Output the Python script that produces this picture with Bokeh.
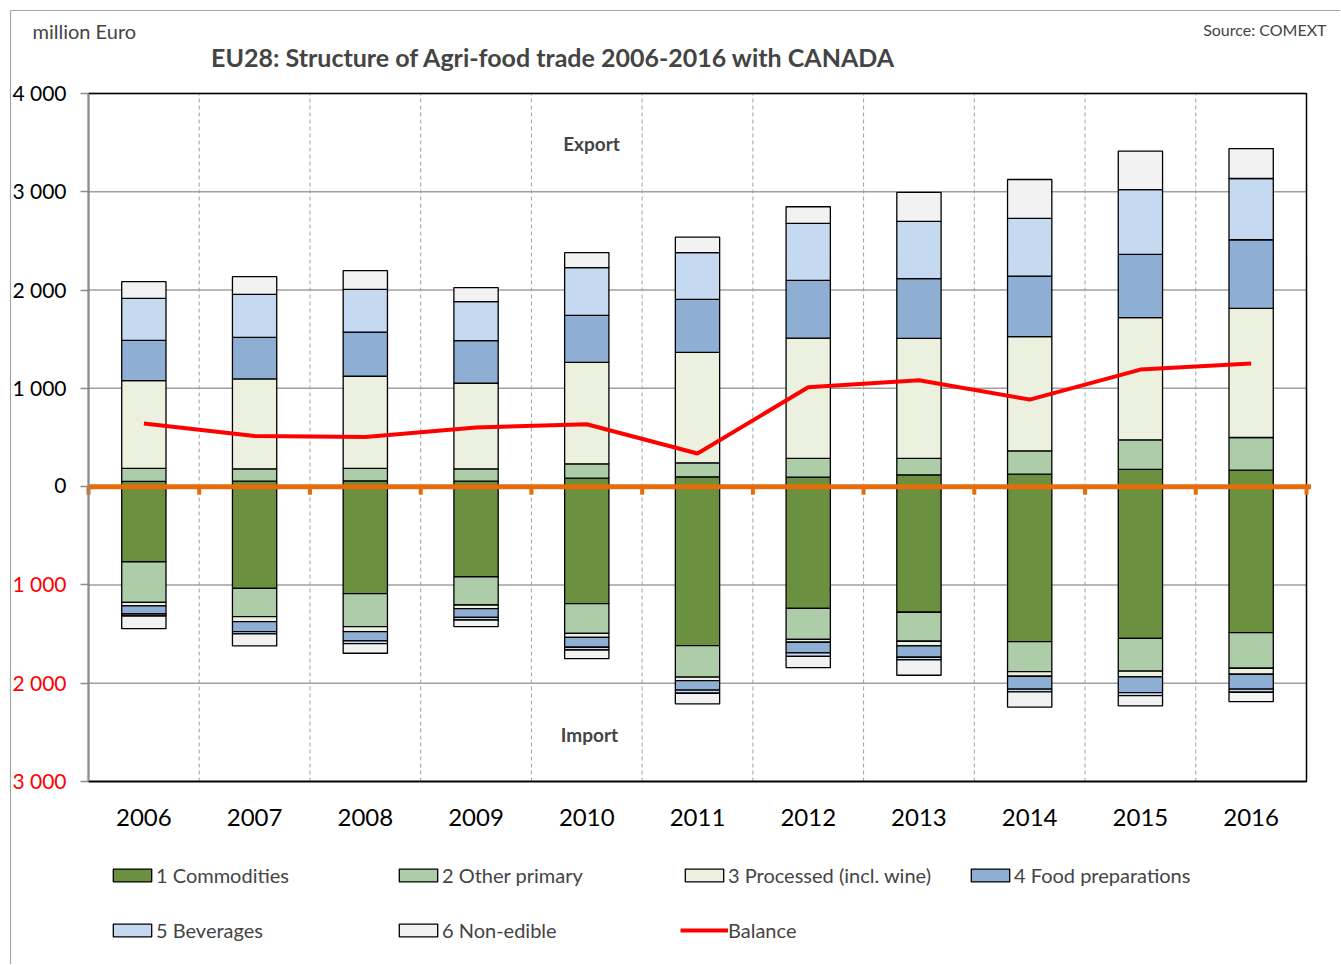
import numpy as np
from bokeh.plotting import figure
from bokeh.models import (ColumnDataSource, FixedTicker, Label, Legend,
                          LegendItem, Range1d)
from bokeh.embed import file_html
from bokeh.resources import INLINE

FONT = "Lato"

years = ["2006", "2007", "2008", "2009", "2010", "2011",
         "2012", "2013", "2014", "2015", "2016"]
categories = ["1 Commodities", "2 Other primary", "3 Processed (incl. wine)",
              "4 Food preparations", "5 Beverages", "6 Non-edible"]
colors = ["#6a9040", "#adcda9", "#ebf1de", "#8faed4", "#c5d9f1", "#f2f2f2"]

# Export (million Euro)
exp_commodities = [53, 56, 59, 56, 86, 100, 97, 120, 127, 175, 168]
exp_other_primary = [132, 125, 126, 125, 146, 142, 190, 167, 237, 301, 332]
exp_processed = [894, 915, 938, 871, 1033, 1125, 1225, 1222, 1162, 1244, 1314]
exp_food_prep = [410, 423, 450, 434, 478, 538, 587, 607, 616, 643, 698]
exp_beverages = [427, 437, 434, 396, 485, 475, 579, 582, 587, 660, 623]
exp_non_edible = [169, 180, 190, 142, 152, 159, 170, 295, 396, 390, 305]

# Import (million Euro, shown downward)
imp_commodities = [764, 1035, 1089, 917, 1191, 1618, 1238, 1278, 1577, 1543, 1486]
imp_other_primary = [413, 288, 336, 287, 301, 321, 315, 295, 305, 335, 362]
imp_processed = [37, 51, 51, 38, 41, 35, 30, 48, 47, 58, 61]
imp_food_prep = [82, 102, 94, 88, 101, 97, 109, 115, 132, 160, 152]
imp_beverages = [20, 23, 28, 27, 28, 31, 34, 27, 27, 30, 31]
imp_non_edible = [129, 122, 97, 68, 88, 108, 115, 156, 156, 105, 95]

balance = [642, 516, 506, 602, 635, 337, 1011, 1082, 886, 1191, 1252]

y_ticks = [-3000, -2000, -1000, 0, 1000, 2000, 3000, 4000]
Y_MIN, Y_MAX = -3000, 4000

exp_series = [exp_commodities, exp_other_primary, exp_processed,
              exp_food_prep, exp_beverages, exp_non_edible]
imp_series = [imp_commodities, imp_other_primary, imp_processed,
              imp_food_prep, imp_beverages, imp_non_edible]

# ---- layout (page pixels); the frame covers the whole canvas ----
FIG_W, FIG_H = 1340, 964
AREA_L, AREA_R, AREA_T, AREA_B = 88, 1306, 93, 781   # plot area
n = len(years)
x_unit = (AREA_R - AREA_L) / n
y_unit = (AREA_B - AREA_T) / (Y_MAX - Y_MIN)


def px2x(px):
    return -0.5 + (px - AREA_L) / x_unit


def py2y(py):
    return Y_MIN + (AREA_B - py) / y_unit


x = np.arange(n)
keys = [f"s{i}" for i in range(6)]
exp_src = ColumnDataSource(dict(x=x, **{k: v for k, v in zip(keys, exp_series)}))
imp_src = ColumnDataSource(dict(x=x, **{k: -np.array(v) for k, v in zip(keys, imp_series)}))
bal_src = ColumnDataSource(dict(x=x, y=balance))

p = figure(width=FIG_W, height=FIG_H, output_backend="svg", toolbar_location=None,
           x_range=Range1d(px2x(0), px2x(FIG_W)),
           y_range=Range1d(py2y(FIG_H), py2y(0)),
           y_axis_location="right",
           min_border_left=0, min_border_right=0, min_border_top=0,
           min_border_bottom=0)
p.outline_line_color = None
p.xgrid.visible = False
p.ygrid.visible = False

# outer chart border (top and left)
p.segment(x0=[px2x(10), px2x(10)], y0=[py2y(10), py2y(10)],
          x1=[px2x(FIG_W), px2x(10)], y1=[py2y(10), py2y(FIG_H)],
          line_color="#a6a6a6", line_width=1.2)

# grid lines limited to the plot area
bounds = np.arange(n + 1) - 0.5
p.segment(x0=np.full(len(y_ticks), -0.5), y0=y_ticks,
          x1=np.full(len(y_ticks), n - 0.5), y1=y_ticks,
          line_color="#a0a0a0", line_width=1.5)
inner = bounds[1:-1]
p.segment(x0=inner, y0=np.full(len(inner), Y_MIN), x1=inner,
          y1=np.full(len(inner), Y_MAX), line_color="#a0a0a0", line_width=1,
          line_dash="4 3")

exp_r = p.vbar_stack(keys, x="x", width=0.4, source=exp_src, fill_color=colors,
                     line_color="black", line_width=1.3)
imp_r = p.vbar_stack(keys, x="x", width=0.4, source=imp_src, fill_color=colors,
                     line_color="black", line_width=1.3)
bal_r = p.line("x", "y", source=bal_src, line_color="#ff0000", line_width=4)

# plot-area box
p.quad(left=[-0.5], right=[n - 0.5], bottom=[Y_MIN], top=[Y_MAX],
       fill_color=None, line_color="black", line_width=1.5)

# zero axis (orange) with its tick marks at category boundaries
p.segment(x0=[-0.5], y0=[0], x1=[n - 0.5 + 0.04], y1=[0],
          line_color="#e46c0a", line_width=5)
p.segment(x0=bounds, y0=np.zeros(len(bounds)), x1=bounds,
          y1=np.full(len(bounds), -8 / y_unit), line_color="#e46c0a", line_width=4)

# y axis (drawn at the plot-area's left edge)
yax = p.yaxis[0]
yax.fixed_location = -0.5
yax.bounds = (Y_MIN, Y_MAX)
yax.ticker = FixedTicker(ticks=y_ticks)
yax.major_label_overrides = {t: "" for t in y_ticks}
yax.major_label_standoff = 0
yax.major_label_text_font_size = "1px"
yax.axis_line_color = "#8c8c8c"
yax.axis_line_width = 1.5
yax.major_tick_line_color = "#8c8c8c"
yax.major_tick_line_width = 1.5
yax.major_tick_in = 8
yax.major_tick_out = 0
yax.minor_tick_line_color = None


def fmt(v):
    return f"{abs(v):,}".replace(",", " ")


for t in y_ticks:
    p.add_layout(Label(x=-0.5, y=t, x_offset=-22, y_offset=1, text=fmt(t),
                       text_align="right", text_baseline="middle",
                       text_color="#ff0000" if t < 0 else "black",
                       text_font=FONT, text_font_size="21px"))

# x axis (drawn at the plot-area's bottom edge)
xax = p.xaxis[0]
xax.fixed_location = Y_MIN
xax.bounds = (-0.5, n - 0.5)
xax.ticker = FixedTicker(ticks=list(x))
xax.major_label_overrides = {int(i): y for i, y in zip(x, years)}
xax.major_label_text_font = FONT
xax.major_label_text_font_size = "24px"
xax.major_label_text_color = "black"
xax.major_label_standoff = 27
xax.major_tick_out = 0
xax.major_tick_in = 0
xax.minor_tick_line_color = None
xax.axis_line_color = "black"
xax.axis_line_width = 1.5

# texts
p.add_layout(Label(x=px2x(553), y=py2y(56),
                   text="EU28: Structure of Agri-food trade 2006-2016 with CANADA",
                   text_align="center", text_baseline="middle", text_font=FONT,
                   text_font_style="bold", text_font_size="25px"))
p.add_layout(Label(x=px2x(32), y=py2y(30), text="million Euro", text_align="left",
                   text_baseline="middle", text_font=FONT, text_font_size="20px"))
p.add_layout(Label(x=px2x(1326), y=py2y(29), text="Source: COMEXT", text_align="right",
                   text_baseline="middle", text_font=FONT, text_font_size="16px"))
p.add_layout(Label(x=px2x(591), y=py2y(143), text="Export", text_align="center",
                   text_baseline="middle", text_font=FONT, text_font_style="bold",
                   text_font_size="19px"))
p.add_layout(Label(x=px2x(589), y=py2y(734), text="Import", text_align="center",
                   text_baseline="middle", text_font=FONT, text_font_style="bold",
                   text_font_size="19px"))

# legend (below the plot area)
items = [LegendItem(label=lab, renderers=[r]) for r, lab in zip(exp_r, categories)]
items.append(LegendItem(label="Balance", renderers=[bal_r]))
legend = Legend(items=items, location=(108, 22), orientation="horizontal", ncols=4,
                border_line_alpha=0, background_fill_alpha=0, padding=0, margin=0,
                glyph_width=48, glyph_height=16, label_height=24, label_width=207,
                label_standoff=0, spacing=31, label_text_font=FONT,
                label_text_font_size="20px", label_text_baseline="alphabetic")
p.add_layout(legend, "center")

open("out.html", "w").write(file_html(p, INLINE))
